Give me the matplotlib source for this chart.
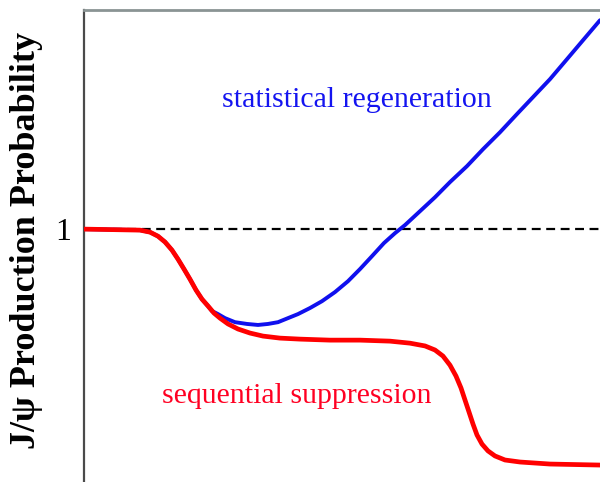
import matplotlib
matplotlib.use("Agg")
import matplotlib.pyplot as plt

# Energy-density axis (arbitrary units) and production probability
x_blue = [0.000, 1.085, 1.279, 1.434, 1.570, 1.705, 1.822, 1.938, 2.054, 2.171, 2.287,
          2.403, 2.481, 2.597, 2.733, 2.926, 3.159, 3.372, 3.566, 3.760, 3.953, 4.147,
          4.380, 4.612, 4.864, 5.116, 5.349, 5.581, 5.814, 6.027, 6.221, 6.512, 6.802,
          7.093, 7.422, 7.733, 8.062, 8.391, 8.702, 9.031, 9.360, 9.671, 10.000]
y_blue = [1.000, 0.996, 0.988, 0.972, 0.949, 0.917, 0.881, 0.842, 0.802, 0.759, 0.723,
          0.696, 0.676, 0.664, 0.648, 0.632, 0.625, 0.621, 0.625, 0.632, 0.648, 0.664,
          0.688, 0.715, 0.751, 0.794, 0.842, 0.893, 0.945, 0.984, 1.016, 1.071, 1.126,
          1.186, 1.249, 1.316, 1.383, 1.455, 1.522, 1.593, 1.672, 1.747, 1.826]

x_red = [0.000, 1.085, 1.279, 1.434, 1.570, 1.705, 1.822, 1.938, 2.054, 2.171, 2.287,
         2.403, 2.519, 2.636, 2.791, 2.984, 3.217, 3.469, 3.798, 4.186, 4.767, 5.349,
         5.930, 6.318, 6.609, 6.802, 6.957, 7.093, 7.209, 7.306, 7.384, 7.461, 7.539,
         7.616, 7.713, 7.829, 7.965, 8.159, 8.450, 9.031, 10.000]
y_red = [1.000, 0.996, 0.988, 0.972, 0.949, 0.917, 0.881, 0.842, 0.802, 0.759, 0.723,
         0.696, 0.668, 0.648, 0.625, 0.605, 0.589, 0.577, 0.569, 0.565, 0.561, 0.561,
         0.557, 0.549, 0.538, 0.522, 0.498, 0.462, 0.419, 0.372, 0.324, 0.277, 0.229,
         0.186, 0.150, 0.123, 0.103, 0.087, 0.079, 0.071, 0.067]

ref_level = 1.0
ytick_vals = [1]
ytick_labels = ["1"]
label_blue = "statistical regeneration"
label_red = "sequential suppression"
ylabel = "J/ψ Production Probability"

serif = ["Liberation Serif", "DejaVu Serif"]

fig = plt.figure(figsize=(6.0, 4.82), dpi=100)
ax = fig.add_axes([0.14, 0.0, 0.86, 0.979])
ax.set_xlim(0, 10)
ax.set_ylim(0, 1.866)

ax.axhline(ref_level, color="black", lw=1.6, ls=(0, (4, 2.5)), zorder=1)
ax.plot(x_blue, y_blue, color="#1010ee", lw=2.8, zorder=2,
        solid_capstyle="round", solid_joinstyle="round")
ax.plot(x_red, y_red, color="#ff0000", lw=3.4, zorder=3,
        solid_capstyle="round", solid_joinstyle="round")

ax.set_xticks([])
ax.set_yticks(ytick_vals)
ax.set_yticklabels(ytick_labels, family=serif, fontsize=23)
ax.tick_params(axis="y", length=0, pad=9)

ax.spines["right"].set_visible(False)
ax.spines["bottom"].set_visible(False)
ax.spines["left"].set_color("#4a4a4a")
ax.spines["left"].set_linewidth(1.6)
ax.spines["top"].set_color("#8a9494")
ax.spines["top"].set_linewidth(2.0)

fig.text(222 / 600, 1 - 107 / 482, label_blue, color="#1414f0", family=serif,
         fontsize=21.5, ha="left", va="baseline")
fig.text(162 / 600, 1 - 403 / 482, label_red, color="#ff0022", family=serif,
         fontsize=21.5, ha="left", va="baseline")
fig.text(27 / 600, 1 - 240 / 482, ylabel, rotation=90, family=serif,
         fontweight="bold", fontsize=26, ha="center", va="center")

fig.savefig("out.png", dpi=100)
